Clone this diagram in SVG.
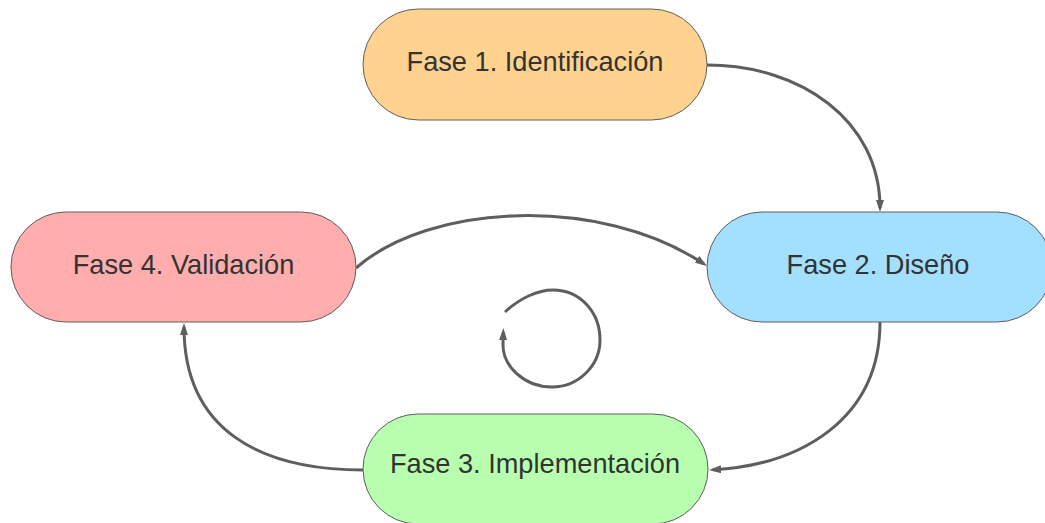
<svg xmlns="http://www.w3.org/2000/svg" width="1045" height="523" viewBox="0 0 1045 523">
  <style>
    .node rect { stroke: #5e5e5e; stroke-width: 1; }
    .node text { font-family: "Liberation Sans", Arial, sans-serif; font-size: 27.2px; fill: #333333; text-anchor: middle; }
    .edge { fill: none; stroke: #5e5e5e; stroke-width: 3; marker-end: url(#arrow); }
  </style>
  <defs>
    <marker id="arrow" viewBox="0 0 12 8" refX="8" refY="4" markerWidth="12" markerHeight="8" markerUnits="userSpaceOnUse" orient="auto">
      <path d="M0,0 L12,4 L0,8 Z" fill="#5e5e5e"/>
    </marker>
  </defs>
  <rect width="1045" height="523" fill="#ffffff"/>

  <g id="connectors">
    <!-- Fase 1 -> Fase 2 -->
    <path class="edge" d="M707,65 C800,65 880,120 880,208"/>
    <!-- Fase 4 -> Fase 2 -->
    <path class="edge" d="M356,268 C430,203 600,195 703.7,263.8"/>
    <!-- Fase 2 -> Fase 3 -->
    <path class="edge" d="M880,322 C880,420 800,465 713,469.8"/>
    <!-- Fase 3 -> Fase 4 -->
    <path class="edge" d="M363,470 C260,470 184,430 184,327"/>
    <!-- cycle symbol -->
    <path class="edge" d="M505,312 C520,298 538,290 553,290 C580,290 600,312 600,340 C600,366 578,387 552,387 C524,387 503,366 503,345 L503.3,332"/>
  </g>

  <g id="fase1" class="node">
    <rect x="363" y="9" width="344" height="111" rx="55.5" fill="#ffd38f"/>
    <text x="535" y="71">Fase 1. Identificación</text>
  </g>
  <g id="fase2" class="node">
    <rect x="707" y="212" width="345" height="110" rx="55" fill="#a3e0ff"/>
    <text x="878" y="274">Fase 2. Diseño</text>
  </g>
  <g id="fase3" class="node">
    <rect x="363" y="414" width="345" height="110" rx="55" fill="#b8ffb0"/>
    <text x="535" y="473">Fase 3. Implementación</text>
  </g>
  <g id="fase4" class="node">
    <rect x="11" y="212" width="345" height="110" rx="55" fill="#ffadad"/>
    <text x="183.5" y="274">Fase 4. Validación</text>
  </g>
</svg>
